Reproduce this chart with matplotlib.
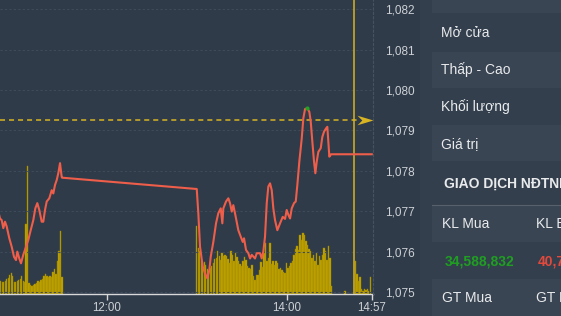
import numpy as np
import matplotlib.pyplot as plt
from matplotlib.path import Path
from matplotlib.patches import Rectangle
from matplotlib.ticker import FuncFormatter

plt.rcParams['font.family'] = ['Liberation Sans', 'DejaVu Sans']

# --- data ---
price_time = [
    "10:47:40", "10:48:30", "10:49:38", "10:50:43", "10:51:50", "10:52:59",
    "10:54:43", "10:56:19", "10:57:52", "10:59:12", "11:00:04", "11:01:24",
    "11:02:32", "11:04:04", "11:05:53", "11:07:25", "11:09:01", "11:10:46",
    "11:12:06", "11:13:26", "11:14:46", "11:16:22", "11:17:26", "11:18:35",
    "11:19:43", "11:21:27", "11:23:04", "11:24:08", "11:25:16", "11:26:24",
    "11:27:28", "11:28:37", "11:29:44", "11:30:00",
    "13:00:00", "13:01:03", "13:02:11", "13:03:59", "13:05:32", "13:07:04",
    "13:08:25", "13:09:20", "13:11:05", "13:12:53", "13:14:25", "13:16:02",
    "13:17:06", "13:17:46", "13:19:34", "13:21:07", "13:22:14", "13:23:23",
    "13:24:27", "13:26:03", "13:27:47", "13:29:24", "13:30:44", "13:31:36",
    "13:32:56", "13:34:29", "13:35:37", "13:36:45", "13:38:57", "13:40:05",
    "13:42:18", "13:43:26", "13:44:30", "13:45:38", "13:46:47", "13:47:50",
    "13:48:59", "13:50:07", "13:51:11", "13:52:19", "13:53:52", "13:55:40",
    "13:57:28", "13:59:01", "14:00:08", "14:01:13", "14:02:21", "14:03:29",
    "14:05:01", "14:06:10", "14:07:14", "14:08:34", "14:10:10", "14:11:14",
    "14:12:23", "14:13:55", "14:15:15", "14:16:11", "14:17:16", "14:18:23",
    "14:19:16", "14:20:12", "14:21:16", "14:22:52", "14:23:56", "14:25:05",
    "14:26:25", "14:27:17", "14:27:57", "14:28:37", "14:29:46", "14:45:00",
    "14:57:00",
]
price_value = [
    1076.95, 1076.82, 1076.78, 1076.58, 1076.74, 1076.62,
    1076.33, 1076.12, 1075.87, 1075.79, 1076.00, 1075.83,
    1075.71, 1075.92, 1076.12, 1076.29, 1076.53, 1076.78,
    1077.07, 1077.20, 1077.03, 1076.74, 1076.74, 1077.03,
    1077.24, 1077.32, 1077.52, 1077.44, 1077.65, 1077.77,
    1077.94, 1078.19, 1077.85, 1077.83,
    1077.55, 1076.95, 1076.12, 1075.63, 1075.46, 1075.34,
    1075.54, 1075.87, 1076.24, 1076.70, 1076.95, 1077.07,
    1076.70, 1077.07, 1077.24, 1077.32, 1077.20, 1076.99,
    1077.15, 1076.86, 1076.53, 1076.37, 1076.24, 1076.33,
    1076.04, 1075.96, 1075.83, 1075.92, 1075.83, 1075.96,
    1075.96, 1075.83, 1076.00, 1076.37, 1077.20, 1077.61,
    1077.69, 1077.52, 1077.07, 1076.78, 1076.53, 1076.70,
    1076.86, 1076.81, 1077.03, 1076.91, 1076.82, 1077.07,
    1077.20, 1077.24, 1077.65, 1078.23, 1078.80, 1079.30,
    1079.53, 1079.55, 1079.46, 1079.22, 1078.72, 1078.23,
    1077.94, 1078.23, 1078.47, 1078.56, 1078.84, 1078.97,
    1079.05, 1079.09, 1078.72, 1078.35, 1078.41, 1078.41,
    1078.41,
]
ref_price = 1079.26

# one volume bar per minute (relative units)
vol_morning_start = "10:49"
vol_morning = [13, 12, 12, 13, 15, 16, 19, 21, 18, 12, 12, 13, 14, 15, 18, 13,
               12, 70, 128, 11, 9, 8, 9, 10, 11, 13, 12, 14, 15, 18, 20, 18,
               17, 18, 17, 22, 25, 20, 33, 43, 63, 17]
vol_afternoon_start = "13:00"
vol_afternoon = [68, 46, 43, 33, 31, 32, 29, 25, 23, 26, 28, 31, 35, 36, 43, 38,
                 34, 41, 38, 39, 38, 35, 31, 43, 39, 33, 41, 37, 33, 30, 28, 33,
                 37, 34, 28, 26, 25, 29, 18, 14, 19, 19, 24, 32, 27, 41,
                 51, 33, 36, 51, 30, 33, 29, 33, 31, 25, 26, 24, 22, 21, 31, 26,
                 28, 31, 33, 39, 45, 48, 44, 59, 54, 61, 59, 53, 49, 45, 43, 36,
                 39, 33, 41, 29, 38, 34, 39, 46, 43, 34, 48, 36, 8]
vol_late_time = ["14:39", "14:46", "14:47", "14:48", "14:49", "14:50", "14:51",
                 "14:52", "14:53", "14:54", "14:55", "14:56"]
vol_late = [3, 33, 20, 13, 17, 5, 3, 5, 4, 5, 3, 17]

x_ticks = ["12:00", "14:00", "14:57"]
y_ticks = [1075, 1076, 1077, 1078, 1079, 1080, 1081, 1082]

panel_labels = ["Mở cửa", "Thấp - Cao", "Khối lượng", "Giá trị"]
foreign_title = "GIAO DỊCH NĐTNN"
foreign_heads = ["KL Mua", "KL Bán"]
foreign_values = ["34,588,832", "40,7"]
foreign_heads2 = ["GT Mua", "GT Bán"]

# --- colours ---
CHART_BG = '#2f3b49'
PANEL_BG = '#333f4d'
ROW_LIGHT = '#3a4553'
LINE = '#ee5e4a'
BAR = '#c4a700'
BAR_EDGE = '#9a8400'
YELLOW = '#d8b422'
TEXT = '#e8eaec'
AXIS_TEXT = '#cdd1d6'


def to_min(s):
    parts = [int(p) for p in s.split(':')]
    while len(parts) < 3:
        parts.append(0)
    return parts[0] * 60 + parts[1] + parts[2] / 60.0


W, H = 561, 316


def fx(px):
    return px / W


def fy(py):
    return 1 - py / H


fig = plt.figure(figsize=(W / 100, H / 100), dpi=100, facecolor=CHART_BG)

# right-hand info panel
fig.add_artist(Rectangle((fx(420), 0), 1 - fx(420), 1, transform=fig.transFigure,
                         color=PANEL_BG, lw=0, zorder=0))
for top, bottom in [(0, 13), (52, 88), (125, 161), (206, 242), (279, 316)]:
    fig.add_artist(Rectangle((fx(432), fy(bottom)), 1 - fx(432), (bottom - top) / H,
                             transform=fig.transFigure, color=ROW_LIGHT, lw=0, zorder=0))
fig.add_artist(plt.Line2D([fx(432), 1], [fy(205), fy(205)], transform=fig.transFigure,
                          color='#56616d', lw=0.8))

for label, yc in zip(panel_labels, [32, 69, 106, 143]):
    fig.text(fx(441), fy(yc + 5), label, fontsize=10, color=TEXT, va='baseline')
fig.text(fx(444), fy(188), foreign_title, fontsize=10, fontweight='bold',
         color=TEXT, va='baseline')
for label, xp in zip(foreign_heads, [441.5, 535.5]):
    fig.text(fx(xp), fy(228), label, fontsize=10, color=TEXT, va='baseline')
for label, xp, c in zip(foreign_values, [444.3, 537.7], ['#1f9e22', '#e0493c']):
    fig.text(fx(xp), fy(265), label, fontsize=10, fontweight='bold', color=c,
             va='baseline')
for label, xp in zip(foreign_heads2, [441.5, 535.5]):
    fig.text(fx(xp), fy(302), label, fontsize=10, color=TEXT, va='baseline')

# chart: volume axes underneath, price axes on top
ax = fig.add_axes([0, fy(294), fx(373), 294 / H])
ax.set_facecolor(CHART_BG)

t_am = to_min(vol_morning_start) + np.arange(len(vol_morning))
t_pm = to_min(vol_afternoon_start) + np.arange(len(vol_afternoon))
t_late = [to_min(s) for s in vol_late_time]
for tt, vv in [(t_am, vol_morning), (t_pm, vol_afternoon), (t_late, vol_late)]:
    ax.bar(tt, vv, width=0.92, color=BAR, edgecolor=BAR_EDGE, linewidth=0.3)
ax.set_ylim(0, 294)
ax.set_yticks([])
ax.set_xlim(to_min("10:48:30"), to_min("14:57:48"))
ax.set_xticks([to_min(s) for s in x_ticks])
ax.set_xticklabels(x_ticks)
ax.tick_params(axis='x', colors='#d8d8d8', labelcolor=AXIS_TEXT, length=4,
               width=1, labelsize=8.3, pad=2)
for side in ['top', 'left', 'right']:
    ax.spines[side].set_visible(False)
ax.spines['bottom'].set_color('#d8d8d8')
ax.spines['bottom'].set_linewidth(1)

axp = ax.twinx()
pt = np.array([to_min(s) for s in price_time])
pv = np.array(price_value)
axp.set_ylim(1074.95, 1082.23)
axp.set_yticks(y_ticks)
axp.yaxis.set_major_formatter(FuncFormatter(lambda v, p: f"{v:,.0f}"))
axp.tick_params(axis='y', length=0, pad=9, labelsize=8.5, labelcolor=AXIS_TEXT)
axp.grid(axis='y', color='#3f4b5a', lw=0.8, linestyle=(0, (2, 2)))
for side in ['top', 'left', 'bottom']:
    axp.spines[side].set_visible(False)
axp.spines['right'].set_color('#46525f')
axp.spines['right'].set_linestyle((0, (2, 2)))
axp.spines['right'].set_linewidth(0.8)

axp.axvline(to_min("14:45"), color=YELLOW, lw=1.1)
axp.axhline(ref_price, xmin=0, xmax=0.958, color=YELLOW, lw=1.1, dashes=(3.3, 2.6))
arrow = Path([(1, 0), (-1, 0.6), (-0.4, 0), (-1, -0.6), (1, 0)],
             [Path.MOVETO, Path.LINETO, Path.LINETO, Path.LINETO, Path.CLOSEPOLY])
axp.plot([0.978], [ref_price], transform=axp.get_yaxis_transform(), marker=arrow,
         ms=11.5, color=YELLOW, mew=0, clip_on=False)

axp.plot(pt, pv, color=LINE, lw=1.5, solid_joinstyle='round')
top = np.argmax(pv)
axp.plot(pt[top], pv[top], 'o', ms=3, color='#22a322', mew=0)

fig.savefig('out.png', dpi=100, facecolor=CHART_BG)
